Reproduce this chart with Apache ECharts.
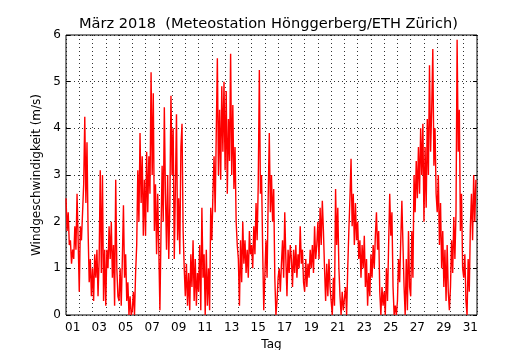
<!DOCTYPE html>
<html>
<head>
<meta charset="utf-8">
<script src="https://cdn.jsdelivr.net/npm/echarts@6/dist/echarts.min.js"></script>
<style>
	html, body { margin: 0; padding: 0; background: #fff; }
	#chart { width: 530px; height: 350px; }
</style>
</head>
<body>
<div id="chart"></div>
<script>
// wind speed (m/s), 12 readings per day (2-hourly)
const day01 = [2.5, 1.8, 2.2, 1.5, 1.6, 1.1, 1.4, 1.2, 1.9, 1.4, 2.6, 1.6]
const day02 = [0.5, 1.9, 1.6, 2.2, 2.8, 4.25, 2.4, 3.7, 1.8, 0.7, 1.2, 0.4]
const day03 = [1.0, 0.3, 1.3, 0.8, 1.4, 0.4, 1.2, 3.1, 0.9, 3.0, 0.3, 1.4]
const day04 = [0.2, 1.4, 1.0, 1.9, 1.2, 2.0, 0.8, 1.5, 0.2, 2.9, 1.0, 0.4]
const day05 = [0.3, 1.0, 0.2, 1.2, 2.35, 0.8, 1.3, 0.3, 0.7, 0.0, 0.4, 0.0]
const day06 = [0.1, 0.5, 0.0, 0.9, 1.5, 3.1, 2.0, 3.9, 2.4, 3.4, 1.7, 2.9]
const day07 = [1.7, 3.5, 2.2, 3.4, 2.6, 5.2, 3.0, 4.75, 1.8, 2.8, 1.3, 2.6]
const day08 = [1.4, 0.1, 1.8, 3.2, 2.0, 4.45, 2.6, 1.4, 3.0, 1.2, 2.4, 4.7]
const day09 = [3.0, 4.0, 1.2, 2.7, 4.3, 1.6, 2.5, 1.3, 3.6, 4.1, 1.8, 1.0]
const day10 = [0.4, 1.1, 0.2, 0.9, 0.1, 1.3, 0.6, 1.6, 0.3, 1.2, 0.2, 0.9]
const day11 = [0.5, 1.5, 0.1, 2.3, 0.8, 1.3, 0.0, 1.4, 0.2, 1.0, 0.1, 2.3]
const day12 = [1.6, 2.6, 3.4, 2.2, 3.9, 5.5, 3.0, 4.4, 2.9, 4.9, 3.5, 5.0]
const day13 = [3.1, 4.8, 2.6, 4.2, 3.3, 5.6, 3.0, 4.5, 2.7, 3.6, 2.0, 1.5]
const day14 = [1.2, 0.2, 1.6, 0.7, 2.0, 1.1, 1.6, 0.9, 1.4, 0.8, 1.8, 1.3]
const day15 = [1.5, 1.0, 1.9, 1.3, 2.4, 1.6, 2.8, 5.25, 2.6, 3.0, 1.4, 0.1]
const day16 = [0.1, 1.6, 0.8, 2.5, 3.9, 2.2, 3.0, 2.0, 2.7, 0.8, 0.0, 0.3]
const day17 = [0.8, 1.0, 0.5, 1.1, 1.6, 0.8, 2.2, 1.2, 0.4, 1.4, 0.9, 1.5]
const day18 = [1.2, 0.6, 1.4, 0.9, 1.5, 0.8, 1.3, 1.0, 1.9, 1.1, 1.4, 0.7]
const day19 = [0.5, 1.2, 0.6, 1.1, 0.8, 1.4, 1.0, 1.5, 0.9, 1.9, 1.2, 1.5]
const day20 = [2.0, 1.2, 2.3, 1.5, 2.45, 1.8, 1.0, 0.3, 1.1, 0.4, 1.2, 0.6]
const day21 = [0.3, 0.0, 0.8, 0.2, 2.7, 1.5, 2.3, 1.0, 0.4, 0.0, 0.5, 0.1]
const day22 = [0.1, 0.6, 0.0, 1.0, 1.8, 2.5, 3.35, 1.9, 2.6, 1.5, 2.4, 1.6]
const day23 = [2.0, 1.2, 1.6, 0.8, 1.5, 1.0, 1.7, 0.6, 1.2, 0.2, 0.9, 0.4]
const day24 = [1.3, 0.8, 1.5, 1.0, 1.7, 2.2, 1.4, 1.8, 0.5, 0.0, 0.6, 0.2]
const day25 = [0.5, 0.0, 1.0, 0.3, 1.5, 2.6, 1.7, 2.2, 0.6, 0.0, 0.2, 0.0]
const day26 = [0.3, 1.2, 0.7, 1.6, 2.45, 1.5, 0.6, 0.0, 1.2, 0.1, 1.8, 0.6]
const day27 = [0.4, 1.8, 0.8, 3.0, 2.2, 3.3, 2.5, 3.6, 2.6, 4.0, 3.0, 4.1]
const day28 = [2.0, 3.6, 2.3, 4.2, 3.0, 5.35, 3.5, 4.4, 5.7, 3.2, 4.0, 2.6]
const day29 = [2.2, 3.0, 1.5, 2.4, 1.0, 1.8, 0.6, 1.4, 0.3, 1.5, 0.5, 0.1]
const day30 = [0.6, 1.6, 0.9, 2.1, 1.2, 2.2, 5.9, 3.5, 4.4, 1.8, 2.6, 1.0]
const day31 = [0.8, 1.3, 0.3, 0.0, 1.2, 0.5, 1.9, 2.6, 1.6, 3.0, 2.0, 2.9]

const days = [
	day01, day02, day03, day04, day05, day06, day07, day08, day09, day10,
	day11, day12, day13, day14, day15, day16, day17, day18, day19, day20,
	day21, day22, day23, day24, day25, day26, day27, day28, day29, day30, day31
]

const dayLabels = ['01', '03', '05', '07', '09', '11', '13', '15', '17', '19', '21', '23', '25', '27', '29', '31']
const yTicks = [0, 1, 2, 3, 4, 5, 6]

// x is the day of month as a float, label sits at noon
const labelPos = dayLabels.map(d => Number(d) + 0.5)
const series = []
days.forEach((vals, i) => {
	vals.forEach((v, j) => series.push([i + 1 + j / vals.length, v]))
})

const font = 'DejaVu Sans'
const dotted = { show: true, lineStyle: { color: '#000', width: 1, type: [1, 3], opacity: 0.8 } }

const chart = echarts.init(document.getElementById('chart'))
chart.setOption({
	backgroundColor: '#fff',
	animation: false,
	title: {
		text: 'März 2018  (Meteostation Hönggerberg/ETH Zürich)',
		left: 74, top: 12,
		textStyle: { fontFamily: font, fontSize: 14.6, fontWeight: 'normal', color: '#000' }
	},
	grid: {
		left: 66, top: 35, right: 53, bottom: 35,
		outerBoundsMode: 'none',
		show: true, borderColor: '#000', borderWidth: 1, backgroundColor: 'transparent'
	},
	xAxis: {
		type: 'value',
		min: 1, max: 32, interval: 1,
		name: 'Tag', nameLocation: 'middle', nameGap: 22,
		nameTextStyle: { fontFamily: font, fontSize: 12, color: '#000' },
		axisLine: { show: false },
		axisTick: { show: false },
		splitLine: dotted,
		axisLabel: {
			customValues: labelPos,
			formatter: v => dayLabels[labelPos.indexOf(v)] || '',
			fontFamily: font, fontSize: 12, color: '#000', margin: 7
		}
	},
	yAxis: [{
		type: 'value',
		min: 0, max: 6, interval: 1,
		name: 'Windgeschwindigkeit (m/s)', nameLocation: 'middle', nameGap: 18,
		nameTextStyle: { fontFamily: font, fontSize: 12, color: '#000' },
		axisLine: { show: false },
		axisTick: { show: true, inside: true, length: 4, lineStyle: { color: '#000' } },
		splitLine: dotted,
		axisLabel: {
			formatter: v => yTicks.includes(v) ? String(v) : '',
			fontFamily: font, fontSize: 12, color: '#000', margin: 5
		}
	}, {
		type: 'value', position: 'right',
		min: 0, max: 6, interval: 1,
		axisLine: { show: false },
		axisTick: { show: true, inside: true, length: 4, lineStyle: { color: '#000' } },
		axisLabel: { show: false },
		splitLine: { show: false }
	}],
	series: [{
		type: 'line',
		data: series,
		showSymbol: false,
		lineStyle: { color: '#ff0000', width: 1.4 },
		silent: true
	}]
})
</script>
</body>
</html>
